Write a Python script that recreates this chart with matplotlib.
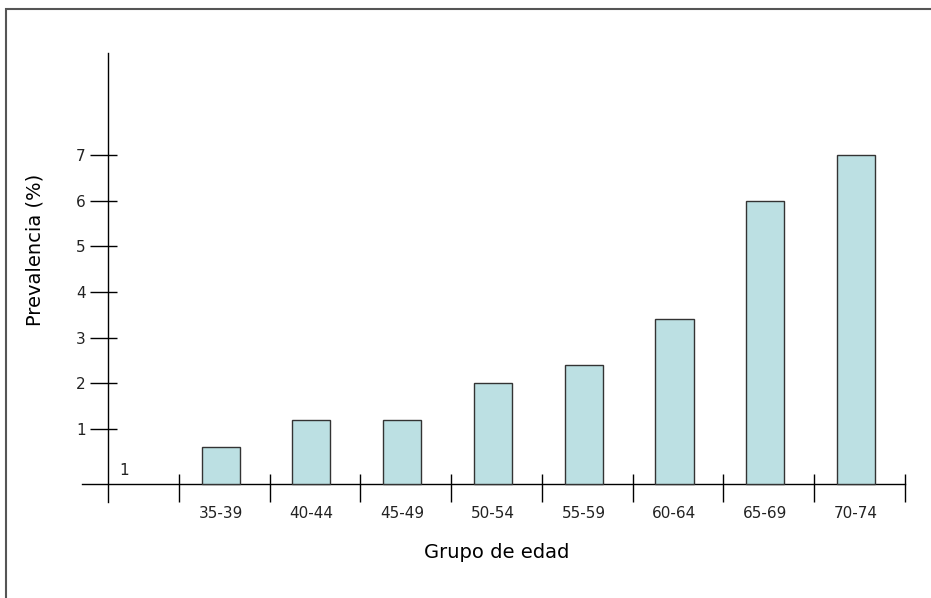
import matplotlib.pyplot as plt
import numpy as np
from matplotlib.patches import Rectangle

plt.rcParams['font.family'] = ['DejaVu Sans']

grupos = ['35-39', '40-44', '45-49', '50-54', '55-59', '60-64', '65-69', '70-74']
prevalencia = [0.6, 1.2, 1.2, 2.0, 2.4, 3.4, 6.0, 7.0]
y_ticks = [1, 2, 3, 4, 5, 6, 7]

base = -0.2  # level where the x axis crosses

fig = plt.figure(figsize=(9.31, 5.98), dpi=100)
ax = fig.add_axes([0.0881, 0.1605, 0.884, 0.7508])

# grey frame (only top and left visible)
fig.patches.append(Rectangle((6 / 931, -0.1), 1.2, (598 - 9) / 598 + 0.1,
                             transform=fig.transFigure, fill=False,
                             edgecolor='#555555', lw=1.5))

x = np.arange(len(grupos))
vals = np.array(prevalencia)
ax.bar(x, vals - base, bottom=base, width=0.42, color='#bce0e3',
       edgecolor='#333333', linewidth=1, zorder=3)

ax.set_xlim(-1.527, 7.54)
ax.set_ylim(-0.6, 9.23)

for s in ['top', 'right']:
    ax.spines[s].set_visible(False)
ax.spines['left'].set_position(('data', -1.242))
ax.spines['bottom'].set_position(('data', base))
ax.spines['left'].set_linewidth(1)
ax.spines['bottom'].set_linewidth(1)

# y ticks: long outward part plus short inward part
ax.set_yticks(y_ticks)
ax.set_yticklabels([str(v) for v in y_ticks], fontsize=11, color='#222222')
ax.set_yticks(y_ticks, minor=True)
ax.yaxis.remove_overlapping_locs = False
ax.tick_params(axis='y', which='major', direction='out', length=13, width=1, pad=3)
ax.tick_params(axis='y', which='minor', direction='in', length=6.5, width=1)

# x ticks at category borders
bordes = np.arange(len(grupos) + 1) - 0.46
ax.set_xticks(bordes)
ax.set_xticklabels([])
ax.set_xticks(bordes, minor=True)
ax.xaxis.remove_overlapping_locs = False
ax.tick_params(axis='x', which='major', direction='out', length=13, width=1)
ax.tick_params(axis='x', which='minor', direction='in', length=7.2, width=1)

for xi, g in zip(x, grupos):
    ax.text(xi, -0.008, g, transform=ax.get_xaxis_transform(),
            ha='center', va='top', fontsize=11, color='#222222')

ax.text(-1.12, -0.07, '1', ha='left', va='bottom', fontsize=11, color='#222222')

fig.text(35 / 931, 1 - 250 / 598, 'Prevalencia (%)', rotation=90,
         ha='center', va='center', fontsize=14)
fig.text(497 / 931, 1 - 553 / 598, 'Grupo de edad',
         ha='center', va='center', fontsize=14)

fig.savefig('out.png', dpi=100)
